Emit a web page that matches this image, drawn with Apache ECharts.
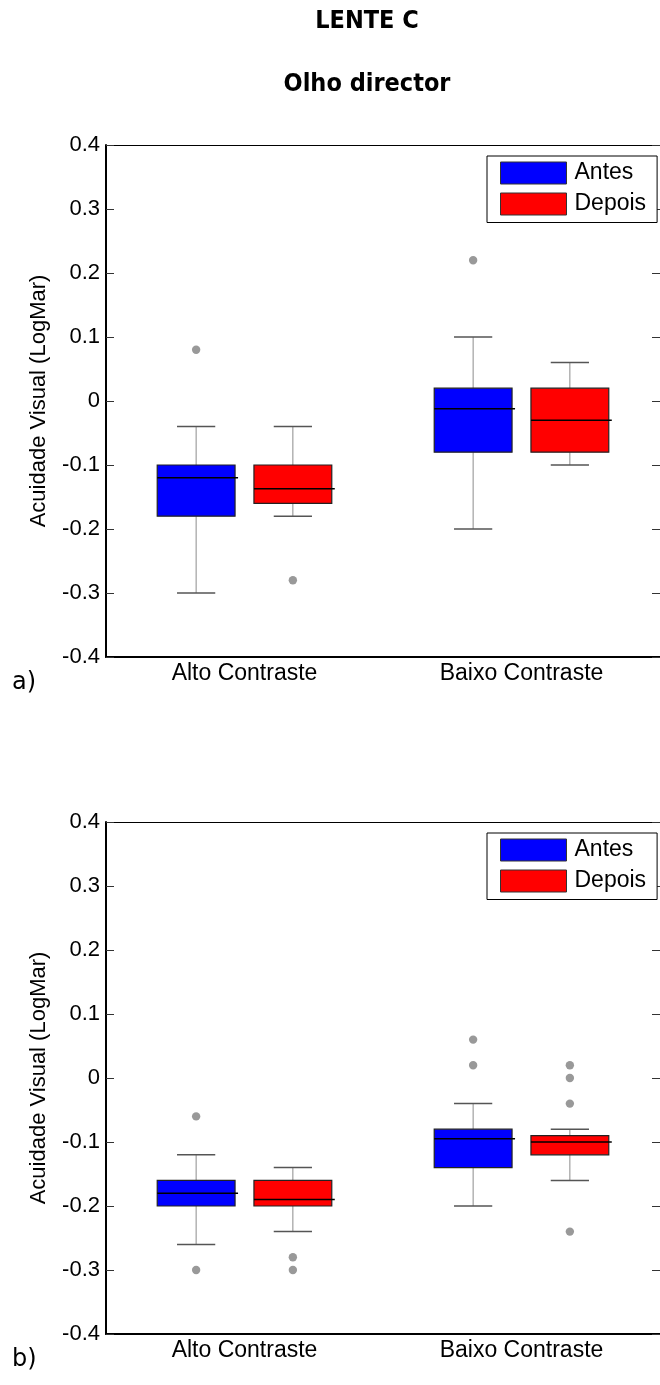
<!DOCTYPE html>
<html>
<head>
<meta charset="utf-8">
<script src="https://cdn.jsdelivr.net/npm/echarts/dist/echarts.min.js"></script>
<style>
  html, body { margin: 0; padding: 0; background: #fff; }
  #chart { width: 660px; height: 1385px; }
</style>
</head>
<body>
<div id="chart"></div>
<script>
// ---------- data ----------
const mainTitle = 'LENTE C';
const subTitle = 'Olho director';
const yAxisTitle = 'Acuidade Visual (LogMar)';
const categories = ['Alto Contraste', 'Baixo Contraste'];
const groupNames = ['Antes', 'Depois'];
const panelLabels = ['a)', 'b)'];
const yMin = -0.4, yMax = 0.4, yStep = 0.1;

// box stats per category: [min whisker, Q1, median, Q3, max whisker]
const aAntes  = [[-0.30, -0.18, -0.12,  -0.10, -0.04], [-0.20, -0.08, -0.012, 0.02, 0.10]];
const aDepois = [[-0.18, -0.16, -0.137, -0.10, -0.04], [-0.10, -0.08, -0.03,  0.02, 0.06]];
const aAntesOut  = [[0.08], [0.22]];
const aDepoisOut = [[-0.28], []];

const bAntes  = [[-0.26, -0.20, -0.18, -0.16, -0.12], [-0.20, -0.14, -0.095, -0.08, -0.04]];
const bDepois = [[-0.24, -0.20, -0.19, -0.16, -0.14], [-0.16, -0.12, -0.10,  -0.09, -0.08]];
const bAntesOut  = [[-0.06, -0.30], [0.06, 0.02]];
const bDepoisOut = [[-0.28, -0.30], [0.02, 0.00, -0.04, -0.24]];

// ---------- styling / layout ----------
const FONT = '"Liberation Sans", Arial, sans-serif';
const colors = ['#0000ff', '#ff0000'];
const offsets = [-0.1746, 0.1746];   // box centre offsets as fraction of band
const BOX_W = 0.281, CAP_W = 0.138;

const panels = [
  { top: 145, height: 512, legendTop: 156, labelY: 685, boxes: [aAntes, aDepois], outs: [aAntesOut, aDepoisOut] },
  { top: 822, height: 512, legendTop: 833, labelY: 1362, boxes: [bAntes, bDepois], outs: [bAntesOut, bDepoisOut] }
];

function boxRender(offsetFrac, fill) {
  return function (params, api) {
    const cat = api.value(0);
    const band = api.size([1, 0])[0];
    const cx = api.coord([cat, 0])[0] + offsetFrac * band;
    const py = i => api.coord([cat, api.value(i)])[1];
    const yLo = py(1), yQ1 = py(2), yMed = py(3), yQ3 = py(4), yHi = py(5);
    const bw = band * BOX_W, cw = band * CAP_W;
    const wStyle = { stroke: '#8c8c8c', lineWidth: 1 };
    const cStyle = { stroke: '#555', lineWidth: 1.5 };
    return {
      type: 'group',
      children: [
        { type: 'line', shape: { x1: cx, y1: yHi, x2: cx, y2: yQ3 }, style: wStyle },
        { type: 'line', shape: { x1: cx, y1: yQ1, x2: cx, y2: yLo }, style: wStyle },
        { type: 'line', shape: { x1: cx - cw / 2, y1: yHi, x2: cx + cw / 2, y2: yHi }, style: cStyle },
        { type: 'line', shape: { x1: cx - cw / 2, y1: yLo, x2: cx + cw / 2, y2: yLo }, style: cStyle },
        { type: 'rect', shape: { x: cx - bw / 2, y: yQ3, width: bw, height: yQ1 - yQ3 },
          style: { fill: fill, stroke: '#222', lineWidth: 1.2 } },
        { type: 'line', shape: { x1: cx - bw / 2, y1: yMed, x2: cx + bw / 2 + 3, y2: yMed },
          style: { stroke: '#000', lineWidth: 1.5 } }
      ]
    };
  };
}

function outRender(offsetFrac) {
  return function (params, api) {
    const cat = api.value(0);
    const band = api.size([1, 0])[0];
    const p = api.coord([cat, api.value(1)]);
    return { type: 'circle', shape: { cx: p[0] + offsetFrac * band, cy: p[1], r: 4.2 },
             style: { fill: '#999999' } };
  };
}

const grid = [], xAxis = [], yAxis = [], series = [], legend = [], graphic = [];

panels.forEach((pn, pi) => {
  grid.push({ left: 106, width: 558, top: pn.top, height: pn.height, containLabel: false });
  // bottom category axis (labels)
  xAxis.push({
    type: 'category', gridIndex: pi, position: 'bottom', data: categories,
    axisLine: { onZero: false, lineStyle: { color: '#000', width: 2 } },
    axisTick: { inside: true, alignWithLabel: true, length: 5, lineStyle: { color: '#000' } },
    axisLabel: { color: '#000', fontFamily: FONT, fontSize: 23, margin: 5 },
    splitLine: { show: false }
  });
  // top category axis (box frame)
  xAxis.push({
    type: 'category', gridIndex: pi, position: 'top', data: categories,
    axisLine: { onZero: false, lineStyle: { color: '#000', width: 1 } },
    axisTick: { inside: true, alignWithLabel: true, length: 5, lineStyle: { color: '#000' } },
    axisLabel: { show: false }, splitLine: { show: false }
  });
  yAxis.push({
    type: 'value', gridIndex: pi, position: 'left', min: yMin, max: yMax, interval: yStep,
    name: yAxisTitle, nameLocation: 'middle', nameGap: 56, nameRotate: 90,
    nameTextStyle: { color: '#000', fontFamily: FONT, fontSize: 22 },
    axisLine: { show: true, onZero: false, lineStyle: { color: '#000', width: 2 } },
    axisTick: { show: true, inside: true, length: 8, lineStyle: { color: '#333' } },
    axisLabel: { color: '#000', fontFamily: FONT, fontSize: 22, margin: 6,
                 formatter: v => (Math.abs(v) < 1e-9 ? '0' : v.toFixed(1)) },
    splitLine: { show: false }
  });
  yAxis.push({
    type: 'value', gridIndex: pi, position: 'right', min: yMin, max: yMax, interval: yStep,
    axisLine: { show: true, onZero: false, lineStyle: { color: '#000', width: 1 } },
    axisTick: { show: true, inside: true, length: 8, lineStyle: { color: '#333' } },
    axisLabel: { show: false }, splitLine: { show: false }
  });

  const xi = pi * 2, yi = pi * 2;
  groupNames.forEach((gname, gi) => {
    series.push({
      type: 'custom', name: gname, xAxisIndex: xi, yAxisIndex: yi,
      itemStyle: { color: colors[gi] },
      renderItem: boxRender(offsets[gi], colors[gi]),
      encode: { x: 0, y: [1, 2, 3, 4, 5] },
      data: pn.boxes[gi].map((d, ci) => [ci].concat(d)),
      silent: true
    });
    const outData = [];
    pn.outs[gi].forEach((list, ci) => list.forEach(v => outData.push([ci, v])));
    series.push({
      type: 'custom', name: 'out-' + gname + '-' + pi, xAxisIndex: xi, yAxisIndex: yi,
      renderItem: outRender(offsets[gi]),
      encode: { x: 0, y: 1 },
      data: outData, silent: true
    });
  });

  legend.push({
    left: 487, top: pn.legendTop, orient: 'vertical',
    data: groupNames.map((n, gi) => ({ name: n, icon: 'rect',
      itemStyle: { color: colors[gi], borderColor: '#333', borderWidth: 1 } })),
    itemWidth: 66, itemHeight: 22, itemGap: 8,
    padding: [5.5, 11, 7, 13],
    borderColor: '#000', borderWidth: 1, backgroundColor: '#fff',
    selectedMode: false,
    textStyle: { color: '#000', fontFamily: FONT, fontSize: 23, lineHeight: 22, padding: [0, 0, 0, 3] }
  });

  graphic.push({
    type: 'text', left: 12, top: pn.labelY - 14,
    style: { text: panelLabels[pi], fontFamily: '"DejaVu Sans", sans-serif', fontSize: 24, fill: '#000' }
  });
});

graphic.push({
  type: 'text', x: 367, y: 21,
  style: { text: mainTitle, fontFamily: '"DejaVu Sans Condensed", "DejaVu Sans", sans-serif',
           fontWeight: 'bold', fontSize: 25, fill: '#000', textAlign: 'center', textVerticalAlign: 'middle' }
});
graphic.push({
  type: 'text', x: 367, y: 84,
  style: { text: subTitle, fontFamily: '"DejaVu Sans Condensed", "DejaVu Sans", sans-serif',
           fontWeight: 'bold', fontSize: 25, fill: '#000', textAlign: 'center', textVerticalAlign: 'middle' }
});

const chart = echarts.init(document.getElementById('chart'), null, { renderer: 'canvas' });
chart.setOption({
  animation: false,
  backgroundColor: '#fff',
  grid, xAxis, yAxis, series, legend, graphic
});
</script>
</body>
</html>
